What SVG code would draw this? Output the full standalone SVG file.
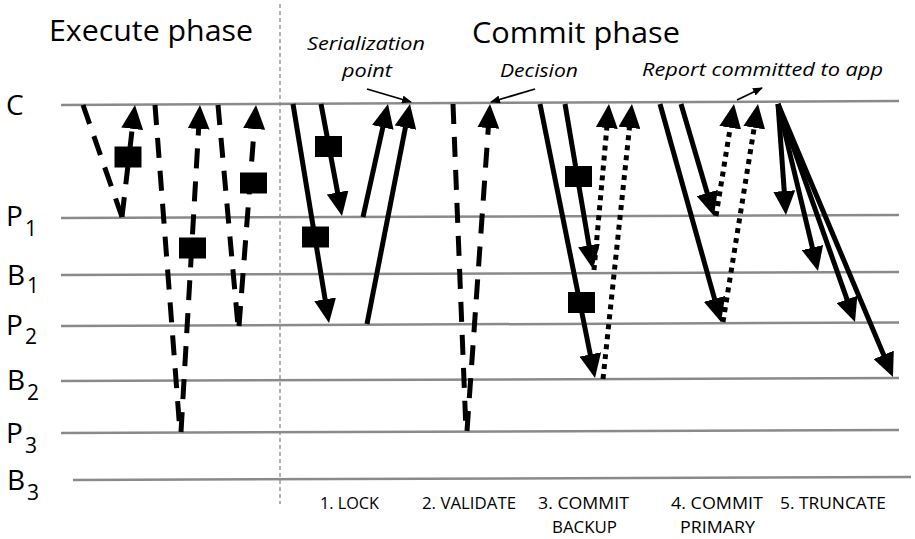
<svg xmlns="http://www.w3.org/2000/svg" width="915" height="539" viewBox="0 0 915 539">
<style>
  text { font-family: "Open Sans", "Noto Sans", "Liberation Sans", sans-serif; fill: #000; }
  .title { font-size: 29.5px; }
  .lane { font-size: 28px; }
  .sub { font-size: 21px; }
  .note { font-size: 18px; font-style: italic; }
  .step { font-size: 17px; }
  .hl { stroke: #8a8a8a; stroke-width: 2.5; fill: none; }
  .div { stroke: #9a9a9a; stroke-width: 1.5; stroke-dasharray: 4 3; fill: none; }
  .solid { stroke: #000; stroke-width: 5; fill: none; }
  .dash { stroke: #000; stroke-width: 5; fill: none; stroke-dasharray: 20 13; }
  .dot { stroke: #000; stroke-width: 5; fill: none; stroke-dasharray: 5 5; }
  .thin { stroke: #000; stroke-width: 1.8; fill: none; }
  .sq { fill: #000; }
  .ah { marker-end: url(#head); }
  .sh { marker-end: url(#small); }
</style>
<defs>
  <marker id="head" markerUnits="userSpaceOnUse" markerWidth="24" markerHeight="22" viewBox="0 0 24 22" refX="12" refY="11" orient="auto">
    <path d="M0,0 L24,11 L0,22 z" fill="#000"/>
  </marker>
  <marker id="small" markerUnits="userSpaceOnUse" markerWidth="10" markerHeight="8" viewBox="0 0 10 8" refX="9" refY="4" orient="auto">
    <path d="M0,0 L10,4 L0,8 z" fill="#000"/>
  </marker>
</defs>

<rect width="915" height="539" fill="#fff"/>

<g id="titles">
  <text class="title" x="49" y="41" textLength="204" lengthAdjust="spacingAndGlyphs">Execute phase</text>
  <text class="title" x="472" y="43" textLength="208" lengthAdjust="spacingAndGlyphs">Commit phase</text>
</g>

<g id="divider">
  <line class="div" x1="280" y1="4" x2="280" y2="504"/>
</g>

<g id="lane-C">
  <line class="hl" x1="61" y1="105" x2="899" y2="101"/>
  <text class="lane" x="6" y="115">C</text>
</g>
<g id="lane-P1">
  <line class="hl" x1="61" y1="218" x2="899" y2="215"/>
  <text class="lane" x="6" y="226">P</text><text class="sub" x="25" y="236">1</text>
</g>
<g id="lane-B1">
  <line class="hl" x1="61" y1="275" x2="899" y2="272"/>
  <text class="lane" x="7" y="285">B</text><text class="sub" x="27" y="293">1</text>
</g>
<g id="lane-P2">
  <line class="hl" x1="61" y1="326" x2="899" y2="322.5"/>
  <text class="lane" x="6" y="335">P</text><text class="sub" x="25" y="344">2</text>
</g>
<g id="lane-B2">
  <line class="hl" x1="61" y1="381" x2="899" y2="378"/>
  <text class="lane" x="7" y="390">B</text><text class="sub" x="27" y="400">2</text>
</g>
<g id="lane-P3">
  <line class="hl" x1="61" y1="433" x2="899" y2="430"/>
  <text class="lane" x="6" y="443">P</text><text class="sub" x="25" y="453">3</text>
</g>
<g id="lane-B3">
  <line class="hl" x1="73" y1="480" x2="911" y2="477"/>
  <text class="lane" x="7" y="490">B</text><text class="sub" x="27" y="500">3</text>
</g>

<g id="connectors">
  <!-- execute phase -->
  <line class="dash" x1="83" y1="105" x2="122" y2="217"/>
  <line class="dash ah" x1="122" y1="217" x2="133.6" y2="116.9"/>
  <line class="dash" x1="155" y1="105" x2="180" y2="432"/>
  <line class="dash ah" x1="181" y1="432" x2="199.3" y2="117"/>
  <line class="dash" x1="218" y1="105" x2="238" y2="326"/>
  <line class="dash ah" x1="239" y1="326" x2="255.1" y2="117"/>
  <!-- 1. lock -->
  <line class="solid ah" x1="293" y1="104" x2="327.05" y2="311.16"/>
  <line class="solid ah" x1="321" y1="104" x2="339.79" y2="204.2"/>
  <line class="solid ah" x1="363" y1="217" x2="385.4" y2="115.7"/>
  <line class="solid ah" x1="367" y1="324" x2="407.7" y2="115.8"/>
  <!-- 2. validate -->
  <line class="dash" x1="453" y1="104" x2="466" y2="431"/>
  <line class="dash ah" x1="467" y1="431" x2="489.16" y2="115.97"/>
  <!-- 3. commit backup -->
  <line class="solid ah" x1="540" y1="104" x2="592.64" y2="366.24"/>
  <line class="solid ah" x1="565" y1="104" x2="591" y2="257.2"/>
  <line class="dot ah" x1="594" y1="270" x2="607.9" y2="115.95"/>
  <line class="dot ah" x1="603" y1="379" x2="630.7" y2="115.9"/>
  <!-- 4. commit primary -->
  <line class="solid ah" x1="660" y1="104" x2="717.77" y2="310.44"/>
  <line class="solid ah" x1="681" y1="104" x2="710.6" y2="204.5"/>
  <line class="dot ah" x1="716" y1="216" x2="732.1" y2="115.85"/>
  <line class="dot ah" x1="723" y1="322" x2="756.1" y2="115.85"/>
  <!-- 5. truncate -->
  <line class="solid ah" x1="778" y1="104" x2="785.1" y2="203"/>
  <line class="solid ah" x1="778" y1="104" x2="815.2" y2="259.3"/>
  <line class="solid ah" x1="778" y1="104" x2="851" y2="310.7"/>
  <line class="solid ah" x1="778" y1="104" x2="888.3" y2="365.9"/>
  <!-- annotation pointers -->
  <line class="thin sh" x1="367" y1="89" x2="411" y2="102"/>
  <line class="thin sh" x1="535" y1="89" x2="491" y2="102"/>
  <line class="thin sh" x1="737" y1="100" x2="762" y2="88"/>
</g>

<g id="locks">
  <rect class="sq" x="114.5" y="146.5" width="27" height="21"/>
  <rect class="sq" x="179" y="237.5" width="27" height="21"/>
  <rect class="sq" x="240" y="172.5" width="27" height="21"/>
  <rect class="sq" x="315" y="136" width="27" height="21"/>
  <rect class="sq" x="302" y="226.5" width="27" height="21"/>
  <rect class="sq" x="565" y="166" width="27" height="21"/>
  <rect class="sq" x="568" y="292" width="27" height="21"/>
</g>

<g id="notes">
  <text class="note" x="307" y="50" textLength="118" lengthAdjust="spacingAndGlyphs">Serialization</text>
  <text class="note" x="342" y="77" textLength="50" lengthAdjust="spacingAndGlyphs">point</text>
  <text class="note" x="500" y="77" textLength="78" lengthAdjust="spacingAndGlyphs">Decision</text>
  <text class="note" x="642" y="76" textLength="241" lengthAdjust="spacingAndGlyphs">Report committed to app</text>
</g>

<g id="steps">
  <text class="step" x="320" y="509" textLength="59" lengthAdjust="spacingAndGlyphs">1. LOCK</text>
  <text class="step" x="422" y="509" textLength="94" lengthAdjust="spacingAndGlyphs">2. VALIDATE</text>
  <text class="step" x="538" y="509" textLength="91" lengthAdjust="spacingAndGlyphs">3. COMMIT</text>
  <text class="step" x="552" y="533" textLength="65" lengthAdjust="spacingAndGlyphs">BACKUP</text>
  <text class="step" x="671" y="509" textLength="92" lengthAdjust="spacingAndGlyphs">4. COMMIT</text>
  <text class="step" x="680" y="533" textLength="75" lengthAdjust="spacingAndGlyphs">PRIMARY</text>
  <text class="step" x="780" y="509" textLength="106" lengthAdjust="spacingAndGlyphs">5. TRUNCATE</text>
</g>
</svg>
